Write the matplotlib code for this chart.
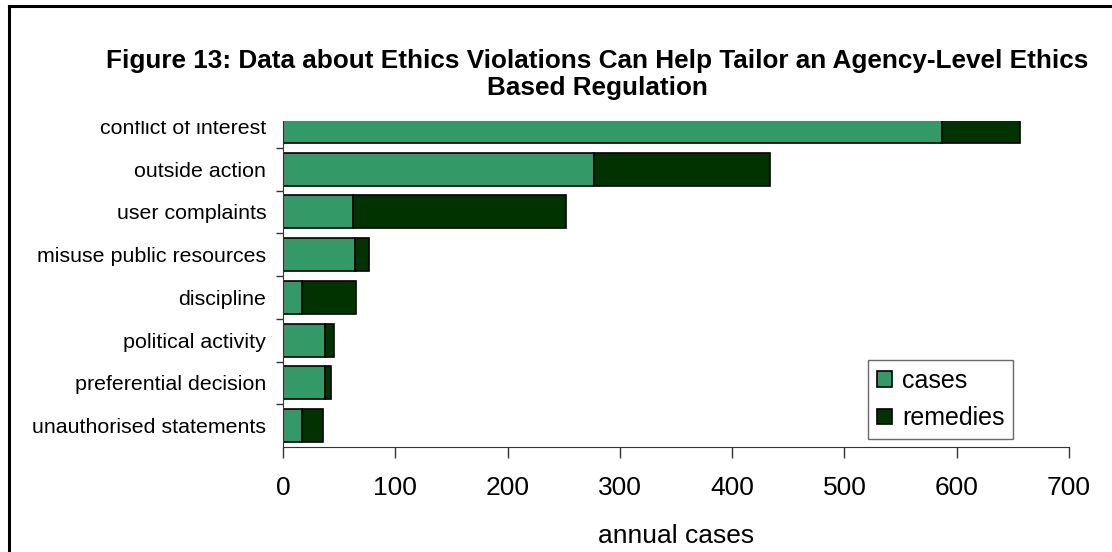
import matplotlib.pyplot as plt
from matplotlib.patches import Rectangle
from matplotlib.lines import Line2D
import numpy as np

plt.rcParams['font.family'] = ['Liberation Sans', 'DejaVu Sans']

categories = ['conflict of interest', 'outside action', 'user complaints',
              'misuse public resources', 'discipline', 'political activity',
              'preferential decision', 'unauthorised statements']
cases = [587, 277, 62, 64, 17, 37, 37, 17]
remedies = [69, 157, 190, 13, 48, 8, 6, 19]
xticks = [0, 100, 200, 300, 400, 500, 600, 700]

green = '#339966'
dark = '#003300'

fig = plt.figure(figsize=(11.12, 5.52), dpi=100)
ax = fig.add_axes([283/1112, 1-447/552, (1069-283)/1112, (447-105)/552])

ypos = np.arange(len(categories))[::-1]
ax.barh(ypos, cases, height=0.77, color=green, edgecolor='black', linewidth=1.2, label='cases')
ax.barh(ypos, remedies, left=cases, height=0.77, color=dark, edgecolor='black', linewidth=1.2, label='remedies')

ax.set_xlim(0, 700)
ax.set_ylim(-0.5, len(categories) - 0.5)
ax.set_xticks(xticks)
ax.set_yticks(ypos)
ax.set_yticklabels(categories, fontsize=15.4)
ax.set_yticks(np.arange(len(categories)) + 0.5, minor=True)
ax.tick_params(axis='y', which='major', length=0, pad=12)
ax.tick_params(axis='y', which='minor', length=5, width=1, color='#333333')
ax.tick_params(axis='x', length=8, width=1, color='#333333', labelsize=19, pad=13)
ax.set_xlabel('annual cases', fontsize=19, labelpad=17)
for s in ['top', 'right']:
    ax.spines[s].set_visible(False)
for s in ['left', 'bottom']:
    ax.spines[s].set_color('#333333')

leg = ax.legend(loc='lower left', bbox_to_anchor=((868-283)/786, (447-439)/342),
                fontsize=18, frameon=True, fancybox=False, handlelength=0.6,
                handleheight=0.6, handletextpad=0.4, labelspacing=0.55,
                borderpad=0.35, borderaxespad=0)
leg.get_frame().set_edgecolor('#444444')
leg.get_frame().set_linewidth(1)

# white band over the top of the plot, like the source clipping
fig.patches.append(Rectangle((0, 1-121/552), 1, 121/552, transform=fig.transFigure,
                             facecolor='white', edgecolor='none', zorder=5))
fig.lines.append(Line2D([9/1112, 9/1112], [0, 1-6/552], transform=fig.transFigure,
                        color='black', linewidth=2.2, zorder=6))
fig.lines.append(Line2D([9/1112, 1], [1-6/552, 1-6/552], transform=fig.transFigure,
                        color='black', linewidth=2.2, zorder=6))

fig.text(597/1112, 1-74.5/552,
         'Figure 13: Data about Ethics Violations Can Help Tailor an Agency-Level Ethics\nBased Regulation',
         ha='center', va='center', fontsize=18.8, fontweight='bold', zorder=7, linespacing=1.15)

fig.savefig('out.png', dpi=100)
